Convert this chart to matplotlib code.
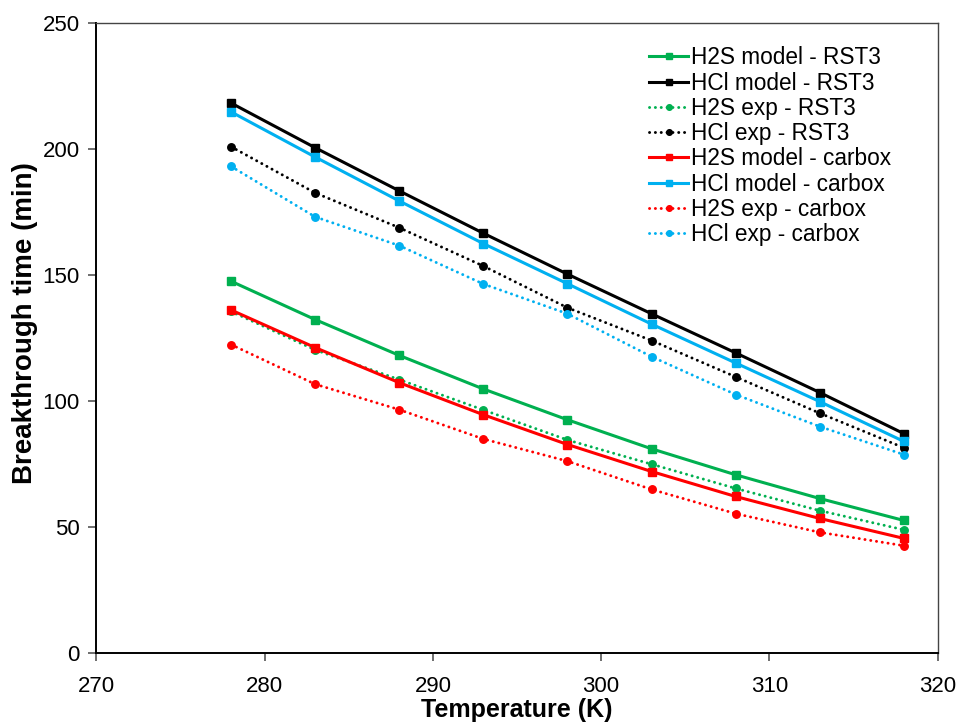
import matplotlib
matplotlib.use("Agg")
from matplotlib import pyplot as plt

plt.rcParams['font.family'] = ['Liberation Sans', 'DejaVu Sans']

temperature = [278, 283, 288, 293, 298, 303, 308, 313, 318]

h2s_model_rst3 = [147.5, 132.3, 118.1, 104.8, 92.6, 81.1, 70.8, 61.4, 52.7]
hcl_model_rst3 = [218.1, 200.4, 183.3, 166.5, 150.3, 134.6, 119.1, 103.4, 87.1]
h2s_exp_rst3 = [135.5, 120.3, 108.5, 96.5, 84.6, 75.0, 65.4, 56.6, 49.0]
hcl_exp_rst3 = [200.8, 182.5, 168.7, 153.5, 137.0, 124.0, 109.6, 95.2, 81.5]
h2s_model_carbox = [136.1, 121.2, 107.3, 94.6, 82.8, 72.1, 62.2, 53.5, 45.6]
hcl_model_carbox = [214.6, 196.7, 179.3, 162.4, 146.5, 130.5, 115.1, 99.8, 84.0]
h2s_exp_carbox = [122.4, 106.7, 96.6, 85.0, 76.2, 65.0, 55.4, 48.0, 42.7]
hcl_exp_carbox = [193.0, 173.0, 161.6, 146.4, 134.6, 117.6, 102.6, 89.9, 78.8]

green = '#00B050'
blue = '#00B0F0'
red = '#FF0000'

fig = plt.figure(figsize=(9.6, 7.24), dpi=100)
ax = fig.add_axes([0.1005, 0.0974, 0.8761, 0.8715])

model_kw = dict(linestyle='-', linewidth=2.2, marker='s', markersize=5.6)
exp_kw = dict(linestyle=(0, (0.05, 1.95)), dash_capstyle='round', linewidth=2.1,
              marker='o', markersize=5.4)

ax.plot(temperature, h2s_model_rst3, color=green, label='H2S model - RST3', **model_kw)
ax.plot(temperature, hcl_model_rst3, color='black', label='HCl model - RST3', **model_kw)
ax.plot(temperature, h2s_exp_rst3, color=green, label='H2S exp - RST3', **exp_kw)
ax.plot(temperature, hcl_exp_rst3, color='black', label='HCl exp - RST3', **exp_kw)
ax.plot(temperature, h2s_model_carbox, color=red, label='H2S model - carbox', **model_kw)
ax.plot(temperature, hcl_model_carbox, color=blue, label='HCl model - carbox', **model_kw)
ax.plot(temperature, h2s_exp_carbox, color=red, label='H2S exp - carbox', **exp_kw)
ax.plot(temperature, hcl_exp_carbox, color=blue, label='HCl exp - carbox', **exp_kw)

ax.set_xlim(270, 320)
ax.set_ylim(0, 250)
ax.set_xticks(range(270, 321, 10))
ax.set_yticks(range(0, 251, 50))
ax.tick_params(axis='both', direction='out', length=6, width=1.2, color='#555555',
               labelsize=16, pad=6)
ax.tick_params(axis='x', pad=10)

for side in ['left', 'bottom']:
    ax.spines[side].set_linewidth(1.4)
    ax.spines[side].set_color('black')
for side in ['top', 'right']:
    ax.spines[side].set_linewidth(1.0)
    ax.spines[side].set_color('#444444')

ax.set_xlabel('Temperature (K)', fontsize=18, fontweight='bold', labelpad=1)
ax.set_ylabel('Breakthrough time (min)', fontsize=20, fontweight='bold', labelpad=6)
ax.yaxis.set_label_coords(-0.069, 0.523)

ax.legend(loc='upper left', bbox_to_anchor=(0.660, 0.958), bbox_transform=fig.transFigure,
          frameon=False, fontsize=16.3, handlelength=1.7, handletextpad=0.15,
          labelspacing=0.1, borderpad=0.2, markerscale=0.75)

fig.savefig('out.png', dpi=100)
